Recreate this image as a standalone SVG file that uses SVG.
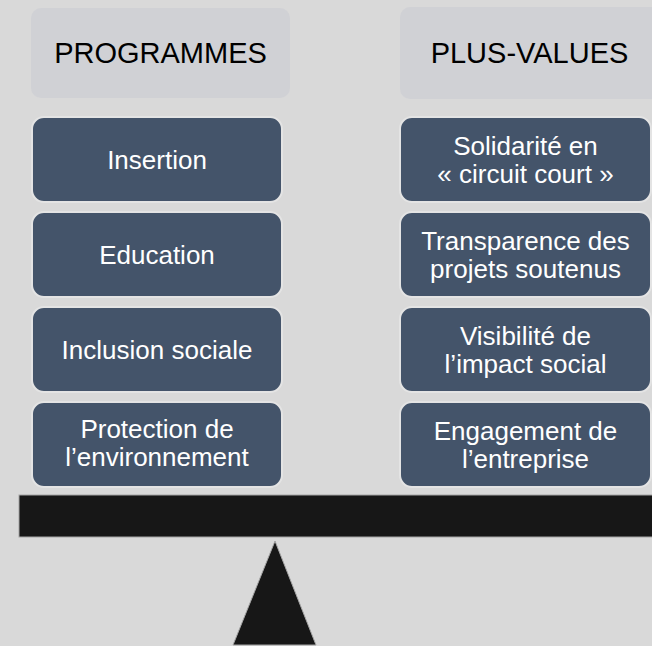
<svg xmlns="http://www.w3.org/2000/svg" width="652" height="646" viewBox="0 0 652 646">
<style>
.hdr{fill:#d0d1d5;}
.htx{font-family:"Liberation Sans",Arial,sans-serif;font-size:29px;fill:#000;text-anchor:middle;}
.box{fill:#44546a;stroke:#e4e4e4;stroke-width:2;}
.btx{font-family:"Liberation Sans",Arial,sans-serif;font-size:26px;fill:#fff;text-anchor:middle;}
</style>
<rect width="652" height="646" fill="#d9d9d9"/>
<g id="hdr-programmes"><rect class="hdr" x="31" y="8" width="259" height="90" rx="10"/><text class="htx" x="160.5" y="63">PROGRAMMES</text></g>
<g id="hdr-plusvalues"><rect class="hdr" x="400" y="7" width="262" height="92" rx="10"/><text class="htx" x="529.5" y="63">PLUS-VALUES</text></g>
<g id="insertion"><rect class="box" x="32" y="117" width="250" height="85" rx="12"/><text class="btx" x="157" y="168.5">Insertion</text></g>
<g id="education"><rect class="box" x="32" y="212" width="250" height="85" rx="12"/><text class="btx" x="157" y="263.5">Education</text></g>
<g id="inclusion"><rect class="box" x="32" y="307" width="250" height="85" rx="12"/><text class="btx" x="157" y="358.5">Inclusion sociale</text></g>
<g id="protection"><rect class="box" x="32" y="402" width="250" height="85" rx="12"/><text class="btx" x="157" y="438">Protection de</text><text class="btx" x="157" y="466">l’environnement</text></g>
<g id="solidarite"><rect class="box" x="400" y="117" width="251" height="85" rx="12"/><text class="btx" x="525.5" y="154.5">Solidarité en</text><text class="btx" x="525.5" y="182.5">« circuit court »</text></g>
<g id="transparence"><rect class="box" x="400" y="212" width="251" height="85" rx="12"/><text class="btx" x="525.5" y="249.5">Transparence des</text><text class="btx" x="525.5" y="277.5">projets soutenus</text></g>
<g id="visibilite"><rect class="box" x="400" y="307" width="251" height="85" rx="12"/><text class="btx" x="525.5" y="344.5">Visibilité de</text><text class="btx" x="525.5" y="372.5">l’impact social</text></g>
<g id="engagement"><rect class="box" x="400" y="402" width="251" height="85" rx="12"/><text class="btx" x="525.5" y="439.5">Engagement de</text><text class="btx" x="525.5" y="467.5">l’entreprise</text></g>
<g id="balance">
<rect x="19" y="495" width="640" height="42" fill="#171717" stroke="#a6a6a6" stroke-width="1"/>
<polygon points="275,541 233,645 316,645" fill="#171717" stroke="#a6a6a6" stroke-width="1"/>
</g>
<g id="connectors"></g>
</svg>
